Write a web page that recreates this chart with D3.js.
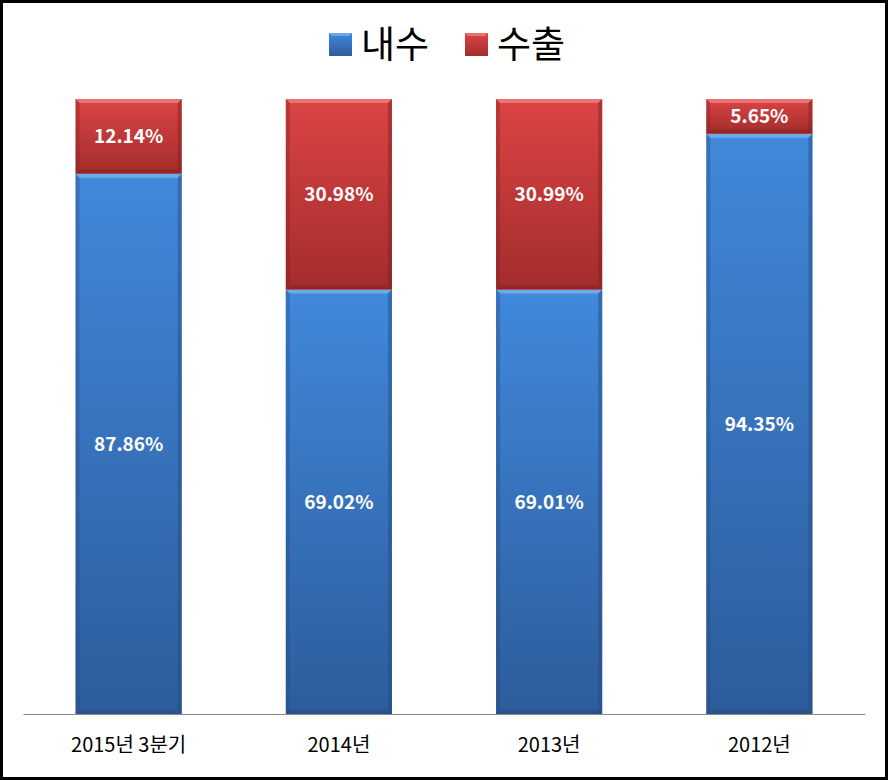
<!DOCTYPE html>
<html>
<head>
<meta charset="utf-8">
<script src="https://cdn.jsdelivr.net/npm/d3@7"></script>
<style>
  body { margin: 0; background: #fff; }
  svg { display: block; }
  text { font-family: "Malgun Gothic", "Noto Sans CJK KR", sans-serif; }
</style>
</head>
<body>
<div id="chart"></div>
<script>
// 데이터
var categories = ['2015년 3분기', '2014년', '2013년', '2012년'];
var seriesNames = ['내수', '수출'];
var domestic = [87.86, 69.02, 69.01, 94.35];
var exportShare = [12.14, 30.98, 30.99, 5.65];

var width = 888;
var height = 780;
var margin = { top: 99, right: 23, bottom: 66, left: 23 };
var plotW = width - margin.left - margin.right;
var plotH = height - margin.top - margin.bottom;

var svg = d3.select('#chart').append('svg')
    .attr('width', width)
    .attr('height', height);

// 테두리
svg.append('rect')
    .attr('x', 1.5).attr('y', 1.5)
    .attr('width', width - 3).attr('height', height - 3)
    .attr('fill', '#fff')
    .attr('stroke', '#000')
    .attr('stroke-width', 3);

var defs = svg.append('defs');
var colors = {
    '내수': { top: '#4189dc', bottom: '#2d5c9b', light: '#7fb4ef', dark: '#24497c' },
    '수출': { top: '#dc4444', bottom: '#a32c2c', light: '#ef8484', dark: '#7f2020' }
};
seriesNames.forEach(function (s, i) {
    var g = defs.append('linearGradient')
        .attr('id', 'grad' + i)
        .attr('x1', 0).attr('y1', 0).attr('x2', 0).attr('y2', 1);
    g.append('stop').attr('offset', '0%').attr('stop-color', colors[s].top);
    g.append('stop').attr('offset', '100%').attr('stop-color', colors[s].bottom);
});

var table = categories.map(function (c, i) {
    return { cat: c, '내수': domestic[i], '수출': exportShare[i] };
});
var stacked = d3.stack().keys(seriesNames)(table);

var x = d3.scaleBand()
    .domain(categories)
    .range([0, plotW])
    .paddingInner(0.495)
    .paddingOuter(0.25);

var y = d3.scaleLinear()
    .domain([0, 100])
    .range([plotH, 0]);

var g = svg.append('g')
    .attr('transform', 'translate(' + margin.left + ',' + margin.top + ')');

// 막대
var bev = 4;
stacked.forEach(function (layer, li) {
    var s = seriesNames[li];
    var seg = g.selectAll('.seg' + li)
        .data(layer)
        .enter().append('g')
        .attr('class', 'seg' + li);

    seg.append('rect')
        .attr('x', function (d) { return x(d.data.cat); })
        .attr('y', function (d) { return y(d[1]); })
        .attr('width', x.bandwidth())
        .attr('height', function (d) { return y(d[0]) - y(d[1]); })
        .attr('fill', 'url(#grad' + li + ')');

    // 윗면 하이라이트
    seg.append('path')
        .attr('fill', colors[s].light)
        .attr('opacity', 0.75)
        .attr('d', function (d) {
            var x0 = x(d.data.cat), x1 = x0 + x.bandwidth(), yt = y(d[1]);
            return 'M' + x0 + ',' + yt + 'L' + x1 + ',' + yt + 'L' + (x1 - bev) + ',' + (yt + bev) +
                'L' + (x0 + bev) + ',' + (yt + bev) + 'Z';
        });
    // 좌우 그림자
    seg.append('path')
        .attr('fill', colors[s].dark)
        .attr('opacity', 0.35)
        .attr('d', function (d) {
            var x0 = x(d.data.cat), yt = y(d[1]), yb = y(d[0]);
            return 'M' + x0 + ',' + yt + 'L' + (x0 + bev) + ',' + (yt + bev) + 'L' + (x0 + bev) + ',' + (yb - bev) +
                'L' + x0 + ',' + yb + 'Z';
        });
    seg.append('path')
        .attr('fill', colors[s].dark)
        .attr('opacity', 0.45)
        .attr('d', function (d) {
            var x1 = x(d.data.cat) + x.bandwidth(), yt = y(d[1]), yb = y(d[0]);
            return 'M' + x1 + ',' + yt + 'L' + (x1 - bev) + ',' + (yt + bev) + 'L' + (x1 - bev) + ',' + (yb - bev) +
                'L' + x1 + ',' + yb + 'Z';
        });
    seg.append('path')
        .attr('fill', colors[s].dark)
        .attr('opacity', 0.5)
        .attr('d', function (d) {
            var x0 = x(d.data.cat), x1 = x0 + x.bandwidth(), yb = y(d[0]);
            return 'M' + x0 + ',' + yb + 'L' + (x0 + bev) + ',' + (yb - bev) + 'L' + (x1 - bev) + ',' + (yb - bev) +
                'L' + x1 + ',' + yb + 'Z';
        });

    // 값 라벨
    seg.append('text')
        .attr('x', function (d) { return x(d.data.cat) + x.bandwidth() / 2; })
        .attr('y', function (d) { return (y(d[0]) + y(d[1])) / 2; })
        .attr('dy', '0.36em')
        .attr('text-anchor', 'middle')
        .attr('fill', '#fff')
        .attr('font-size', 19)
        .attr('font-weight', 'bold')
        .text(function (d) { return (d[1] - d[0]).toFixed(2) + '%'; });
});

// X축
var xAxis = g.append('g')
    .attr('transform', 'translate(0,' + plotH + ')')
    .call(d3.axisBottom(x).tickSize(0).tickPadding(24));
xAxis.select('.domain').attr('stroke', '#888').attr('stroke-width', 1.2);
xAxis.selectAll('text')
    .attr('font-size', 20)
    .attr('fill', '#000')
    .style('font-family', '"Malgun Gothic", "Noto Sans CJK KR", sans-serif');

// 범례
var legend = svg.append('g');
var legendX = [329, 465];
seriesNames.forEach(function (s, i) {
    var lg = legend.append('g').attr('transform', 'translate(' + legendX[i] + ',33)');
    lg.append('rect')
        .attr('width', 23).attr('height', 23)
        .attr('fill', 'url(#grad' + i + ')');
    lg.append('path')
        .attr('fill', colors[s].light).attr('opacity', 0.7)
        .attr('d', 'M0,0L23,0L20,3L3,3Z');
    lg.append('text')
        .attr('x', 32).attr('y', 12)
        .attr('dy', '0.36em')
        .attr('font-size', 37)
        .attr('fill', '#000')
        .text(s);
});
</script>
</body>
</html>
